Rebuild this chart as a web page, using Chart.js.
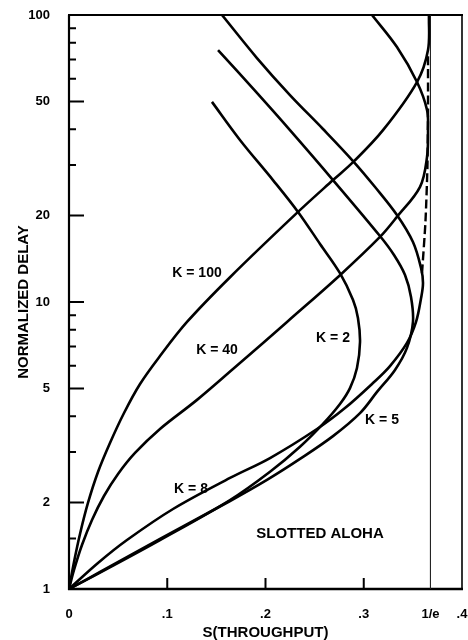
<!DOCTYPE html>
<html>
<head>
<meta charset="utf-8">
<title>Slotted ALOHA delay vs throughput</title>
<script src="https://cdn.jsdelivr.net/npm/chart.js"></script>
<style>
  html, body { margin: 0; padding: 0; background: #fff; }
  canvas { display: block; }
</style>
</head>
<body>
<canvas id="aloha" width="468" height="640"></canvas>
<script>
// Normalized delay (log scale) against throughput S, one curve per population size K
const INV_E = 1 / Math.E;

// [S, delay] pairs, traced from light load round the capacity knee and back
const k2 = [[0, 1], [0.0316, 1.14], [0.0926, 1.48], [0.1639, 2.04], [0.2046, 2.56], [0.2351, 3.13],
  [0.2585, 3.76], [0.2758, 4.41], [0.286, 5.01], [0.2931, 5.89], [0.2962, 7.25], [0.2941, 8.8],
  [0.2891, 10.16], [0.2758, 12.6], [0.2555, 15.93], [0.2331, 20.6], [0.2076, 26.6], [0.174, 36.7],
  [0.1455, 49.8]];
const k5 = [[0, 1], [0.0316, 1.146], [0.0926, 1.494], [0.1639, 2.026], [0.2015, 2.4], [0.2351, 2.84],
  [0.2687, 3.41], [0.2962, 4.1], [0.3135, 4.86], [0.3318, 5.8], [0.344, 6.92], [0.3501, 8.52],
  [0.3481, 10.41], [0.342, 12.42], [0.3308, 14.58], [0.3165, 16.98], [0.2687, 26.6], [0.2249, 39.7],
  [0.1913, 53.5], [0.1517, 75.5]];
const k8 = [[0, 1], [0.0295, 1.232], [0.059, 1.481], [0.1059, 1.9], [0.1639, 2.437], [0.2046, 2.86],
  [0.2524, 3.61], [0.2809, 4.27], [0.3094, 5.22], [0.3267, 5.98], [0.344, 7.2], [0.3532, 8.52],
  [0.3583, 10.3], [0.3603, 11.65], [0.3583, 13.14], [0.3501, 16.18], [0.3338, 20.1], [0.3115, 25.16],
  [0.2891, 30.99], [0.2585, 40.07], [0.2249, 52.6], [0.1913, 70.8], [0.1557, 100]];
const k40 = [[0, 1], [0.0051, 1.165], [0.0132, 1.423], [0.0234, 1.74], [0.0356, 2.109], [0.0499, 2.516],
  [0.0672, 2.978], [0.0926, 3.61], [0.1303, 4.56], [0.1669, 5.84], [0.1975, 7.2], [0.2219, 8.52],
  [0.2758, 12.4], [0.3165, 16.85], [0.3338, 19.8], [0.3573, 25.2], [0.3644, 32.0], [0.3654, 39.7],
  [0.3644, 46.7], [0.3542, 58.4], [0.3338, 77.3], [0.3084, 100]];
const k100 = [[0, 1], [0.0051, 1.242], [0.0112, 1.555], [0.0193, 1.994], [0.0295, 2.557], [0.0417, 3.227],
  [0.056, 4.105], [0.0723, 5.18], [0.0926, 6.48], [0.1201, 8.52], [0.1639, 12.2], [0.2331, 20.6],
  [0.2687, 26.6], [0.2891, 30.7], [0.3196, 39.7], [0.3542, 58.4], [0.3654, 75.5], [0.3664, 100]];
// locus of the knees for the larger populations (dashed)
const envelope = [[0.3593, 12.6], [0.3628, 19.0], [0.3648, 29.5], [0.3654, 46.7], [0.3654, 73.7]];

const xTicks = [0, 0.1, 0.2, 0.3, INV_E, 0.4];
const xTickLabels = ['0', '.1', '.2', '.3', '1/e', '.4'];
const xInnerTicks = [0.1, 0.2, 0.3];
const yTicks = [1, 2, 5, 10, 20, 50, 100];
const yMinorTicks = [1.5, 3, 4, 6, 7, 8, 9, 30, 40, 60, 70, 80, 90];

const curveLabels = [
  { text: 'K = 100', s: 0.1303, d: 12.6 },
  { text: 'K = 40', s: 0.1506, d: 6.8 },
  { text: 'K = 2', s: 0.2687, d: 7.49 },
  { text: 'K = 5', s: 0.3186, d: 3.88 },
  { text: 'K = 8', s: 0.1242, d: 2.23 }
];
const FONT = '"Liberation Sans", Arial, Helvetica, sans-serif';

const toPoints = arr => arr.map(p => ({ x: p[0], y: p[1] }));

// frame, inward tick marks and the in-plot text
const axisFrame = {
  id: 'axisFrame',
  beforeDatasetsDraw(chart) {
    const { ctx, chartArea: a, scales: { x, y } } = chart;
    ctx.save();
    ctx.strokeStyle = '#000';
    ctx.lineWidth = 2;
    ctx.beginPath();
    yTicks.forEach(v => {
      const py = y.getPixelForValue(v);
      ctx.moveTo(a.left, py); ctx.lineTo(a.left + 15, py);
    });
    yMinorTicks.forEach(v => {
      const py = y.getPixelForValue(v);
      ctx.moveTo(a.left, py); ctx.lineTo(a.left + 7, py);
    });
    xInnerTicks.forEach(v => {
      const px = x.getPixelForValue(v);
      ctx.moveTo(px, a.bottom); ctx.lineTo(px, a.bottom - 11);
    });
    ctx.stroke();

    const edge = (w, x1, y1, x2, y2) => {
      ctx.lineWidth = w;
      ctx.beginPath(); ctx.moveTo(x1, y1); ctx.lineTo(x2, y2); ctx.stroke();
    };
    edge(2.2, a.left, a.top, a.left, a.bottom + 1);
    edge(2.4, a.left - 1, a.bottom, a.right + 1, a.bottom);
    edge(2, a.left - 1, a.top, a.right + 1, a.top);
    edge(1.6, a.right, a.top, a.right, a.bottom);
    ctx.restore();
  },
  afterDatasetsDraw(chart) {
    const { ctx, scales: { x, y } } = chart;
    ctx.save();
    ctx.fillStyle = '#000';
    ctx.textAlign = 'center';
    ctx.textBaseline = 'middle';
    ctx.font = 'bold 14px ' + FONT;
    curveLabels.forEach(l => ctx.fillText(l.text, x.getPixelForValue(l.s), y.getPixelForValue(l.d)));
    ctx.font = 'bold 15px ' + FONT;
    ctx.fillText('SLOTTED ALOHA', x.getPixelForValue(0.2555), y.getPixelForValue(1.555));
    ctx.restore();
  }
};

const curve = (data, extra) => Object.assign({
  data: toPoints(data),
  showLine: true,
  borderColor: '#000',
  borderWidth: 2.6,
  pointRadius: 0,
  tension: 0.35,
  fill: false
}, extra || {});

const tickFont = { family: FONT, size: 13, weight: 'bold' };
const titleFont = { family: FONT, size: 15, weight: 'bold', lineHeight: 1 };

new Chart(document.getElementById('aloha'), {
  type: 'scatter',
  data: {
    datasets: [
      curve(k2), curve(k5), curve(k8), curve(k40), curve(k100),
      curve(envelope, { borderDash: [9, 4], borderWidth: 2.4, tension: 0.2 }),
      curve([[INV_E, 1], [INV_E, 100]], { borderWidth: 1.1, borderColor: '#222', tension: 0 })
    ]
  },
  options: {
    responsive: false,
    animation: false,
    devicePixelRatio: 1,
    layout: { padding: { top: 15, right: 6, left: 0, bottom: 0 } },
    plugins: { legend: { display: false }, tooltip: { enabled: false } },
    scales: {
      x: {
        type: 'linear', min: 0, max: 0.4,
        afterBuildTicks: s => { s.ticks = xTicks.map(v => ({ value: v })); },
        afterFit: s => { s.height = 51; s.paddingLeft = 0; s.paddingRight = 0; },
        ticks: { autoSkip: false, maxRotation: 0, padding: 10, color: '#000', font: tickFont,
          callback: (v, i) => xTickLabels[i] },
        grid: { display: false },
        border: { display: false },
        title: { display: true, text: 'S(THROUGHPUT)', color: '#000', font: titleFont, padding: 0 }
      },
      y: {
        type: 'logarithmic', min: 1, max: 100,
        afterBuildTicks: s => { s.ticks = yTicks.map(v => ({ value: v })); },
        afterFit: s => { s.width = 69; s.paddingTop = 0; s.paddingBottom = 0; },
        ticks: { autoSkip: false, padding: 11, color: '#000', font: tickFont,
          callback: v => String(v) },
        grid: { display: false },
        border: { display: false },
        title: { display: true, text: 'NORMALIZED DELAY', color: '#000', font: titleFont,
          padding: { top: 16, bottom: 0 } }
      }
    }
  },
  plugins: [axisFrame]
});
</script>
</body>
</html>
